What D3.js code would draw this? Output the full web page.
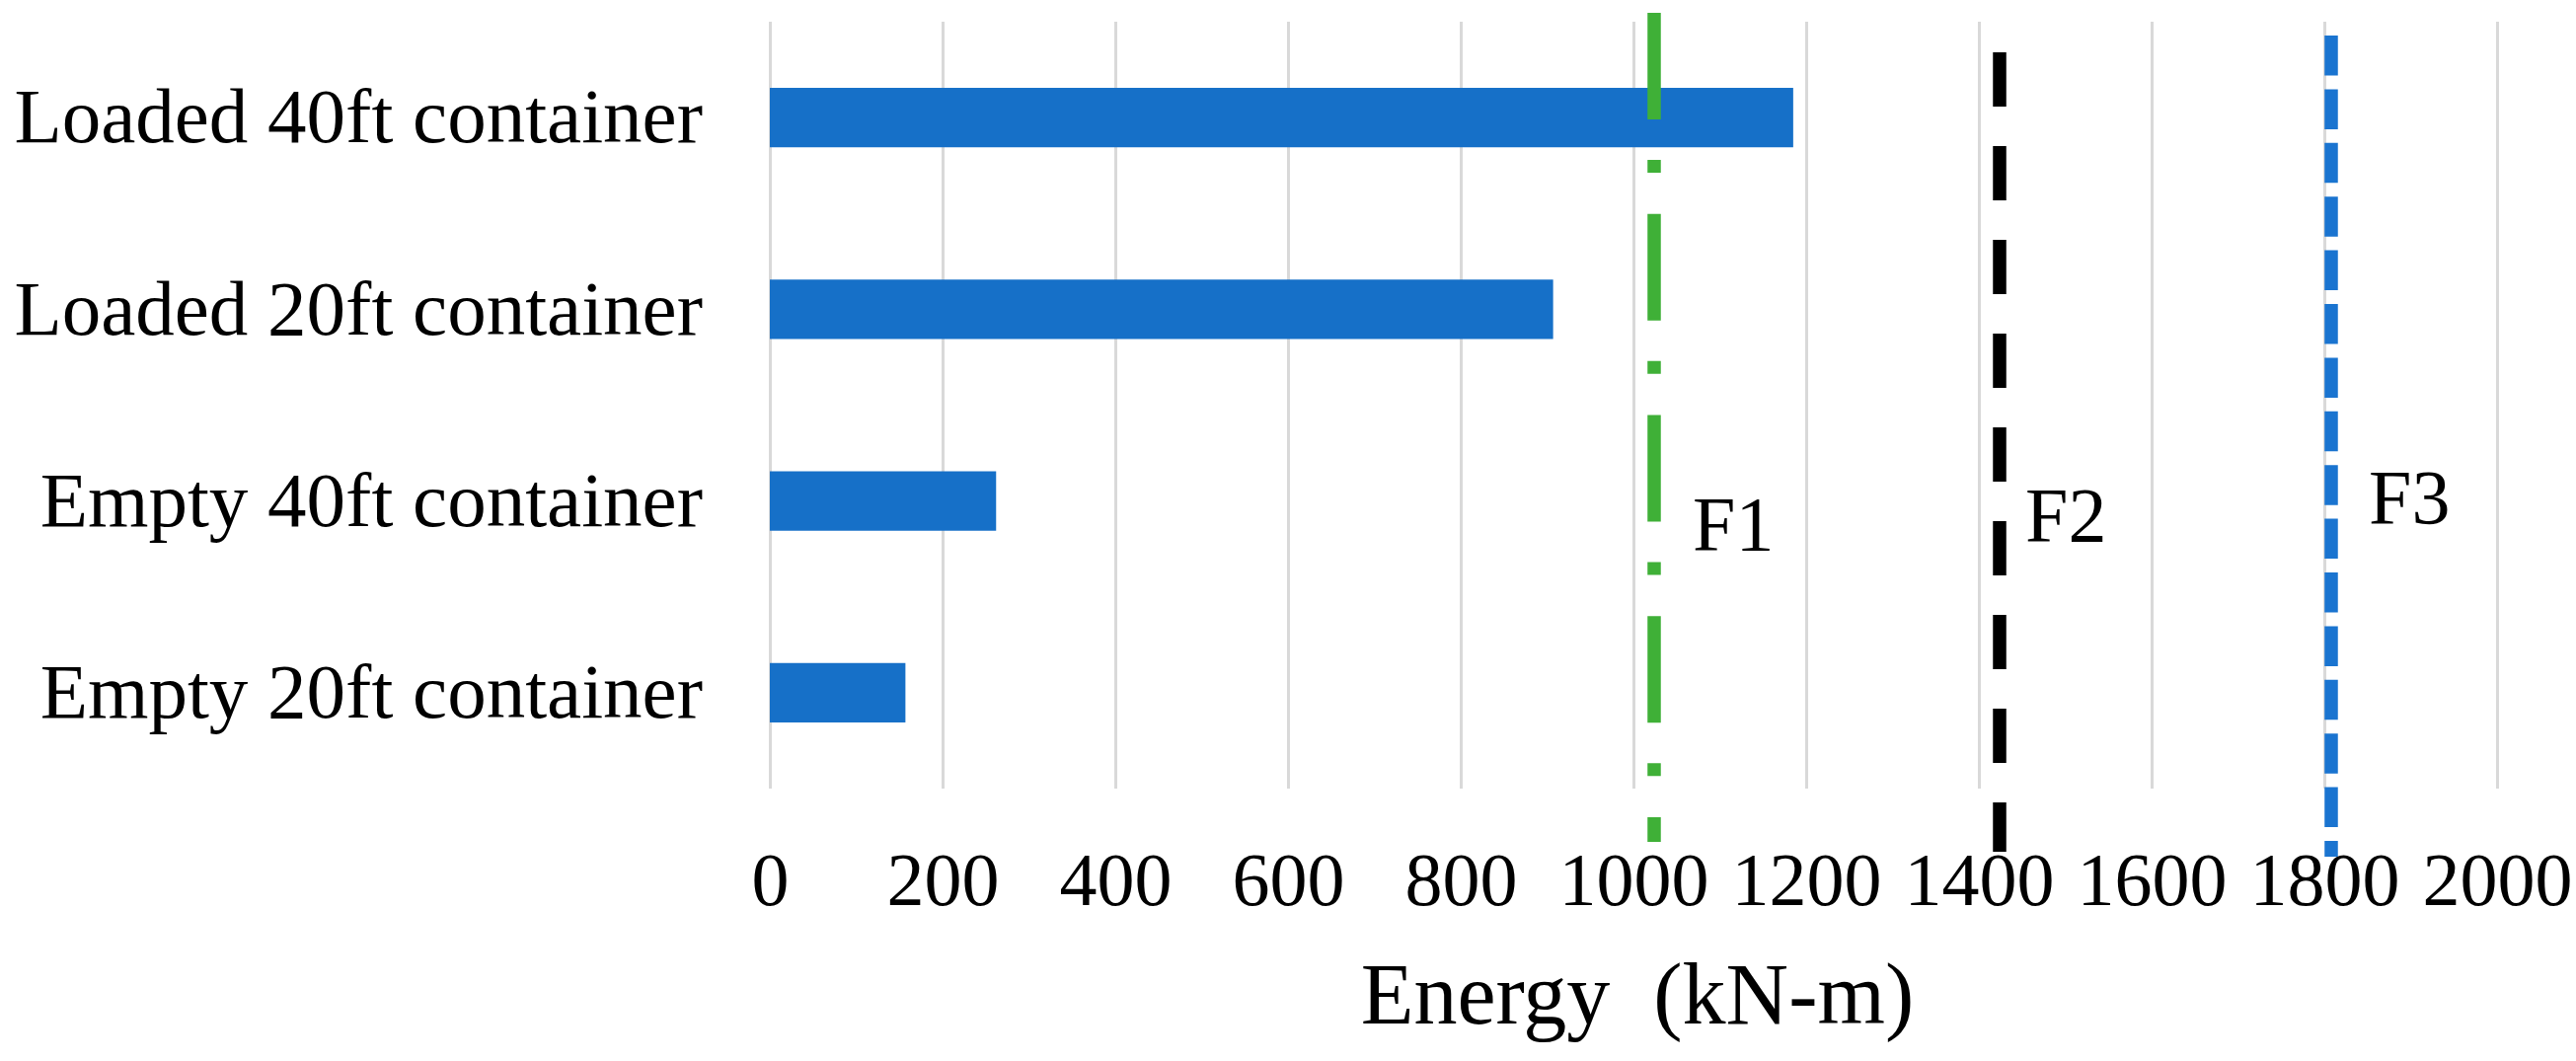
<!DOCTYPE html>
<html>
<head>
<meta charset="utf-8">
<script src="https://cdn.jsdelivr.net/npm/d3@7"></script>
<style>
	body { margin: 0; background: #fff; }
	text { font-family: "Liberation Serif", "Times New Roman", serif; fill: #000; }
</style>
</head>
<body>
<div id="chart"></div>
<script>
// data
const categories = ["Loaded 40ft container", "Loaded 20ft container", "Empty 40ft container", "Empty 20ft container"];
const energy = [1185, 907, 262, 157];
const limitNames = ["F1", "F2", "F3"];
const limitValues = [1024, 1424, 1808];
const xTicks = [0, 200, 400, 600, 800, 1000, 1200, 1400, 1600, 1800, 2000];

const W = 2610, H = 1075;
const plot = {left: 780, right: 2530, top: 22, bottom: 799};

const svg = d3.select("#chart")
	.append("svg")
	.attr("width", W)
	.attr("height", H);

svg.append("rect").attr("width", W).attr("height", H).attr("fill", "#fff");

// scales
let x = d3.scaleLinear().domain([0, 2000]).range([plot.left, plot.right]);
let y = d3.scaleBand()
	.domain(categories)
	.range([plot.top, plot.bottom])
	.paddingInner(0.69)
	.paddingOuter(0.345);

// vertical gridlines
svg.append("g")
	.attr("class", "grid")
	.attr("transform", "translate(0," + plot.bottom + ")")
	.call(d3.axisBottom(x)
		.tickValues(xTicks)
		.tickSize(-(plot.bottom - plot.top))
		.tickFormat(""))
	.call(g => g.select(".domain").remove())
	.call(g => g.selectAll("line").attr("stroke", "#d9d9d9").attr("stroke-width", 3));

// bars
svg.append("g")
	.selectAll("rect")
	.data(categories)
	.enter().append("rect")
	.attr("x", x(0))
	.attr("y", d => y(d))
	.attr("width", (d, i) => x(energy[i]) - x(0))
	.attr("height", y.bandwidth())
	.attr("fill", "#1670c8");

// reference lines F1..F3
const lineStyle = [
	{color: "#3fb037", dash: "108,41,13,41.75", y1: 13, y2: 853, lx: 39, ly: 557},
	{color: "#000000", dash: "55,40", y1: 53, y2: 863, lx: 26, ly: 548},
	{color: "#1a74d0", dash: "40.5,13.9", y1: 36, y2: 868, lx: 38, ly: 530}
];

const limits = svg.append("g").attr("class", "limits");
limits.selectAll("line")
	.data(limitValues)
	.enter().append("line")
	.attr("x1", d => x(d))
	.attr("x2", d => x(d))
	.attr("y1", (d, i) => lineStyle[i].y1)
	.attr("y2", (d, i) => lineStyle[i].y2)
	.attr("stroke", (d, i) => lineStyle[i].color)
	.attr("stroke-width", 13.5)
	.attr("stroke-dasharray", (d, i) => lineStyle[i].dash);

limits.selectAll("text")
	.data(limitValues)
	.enter().append("text")
	.attr("x", (d, i) => x(d) + lineStyle[i].lx)
	.attr("y", (d, i) => lineStyle[i].ly)
	.attr("font-size", 78)
	.text((d, i) => limitNames[i]);

// x axis tick labels
svg.append("g")
	.attr("class", "xAxis")
	.attr("transform", "translate(0," + plot.bottom + ")")
	.call(d3.axisBottom(x)
		.tickValues(xTicks)
		.tickSize(0)
		.tickFormat(d => d))
	.call(g => g.select(".domain").remove())
	.call(g => g.selectAll("text")
		.attr("y", 118)
		.attr("dy", null)
		.attr("font-size", 76)
		.attr("font-family", null)
		.attr("fill", "#000"));

// category labels
svg.append("g")
	.attr("class", "yAxis")
	.attr("transform", "translate(" + plot.left + ",0)")
	.call(d3.axisLeft(y).tickSize(0).tickPadding(68))
	.call(g => g.select(".domain").remove())
	.call(g => g.selectAll("text")
		.attr("font-size", 79)
		.attr("font-family", null)
		.attr("fill", "#000"));

// axis title
svg.append("text")
	.attr("x", 1659)
	.attr("y", 1037)
	.attr("text-anchor", "middle")
	.attr("font-size", 88)
	.style("white-space", "pre")
	.text("Energy  (kN-m)");
</script>
</body>
</html>
